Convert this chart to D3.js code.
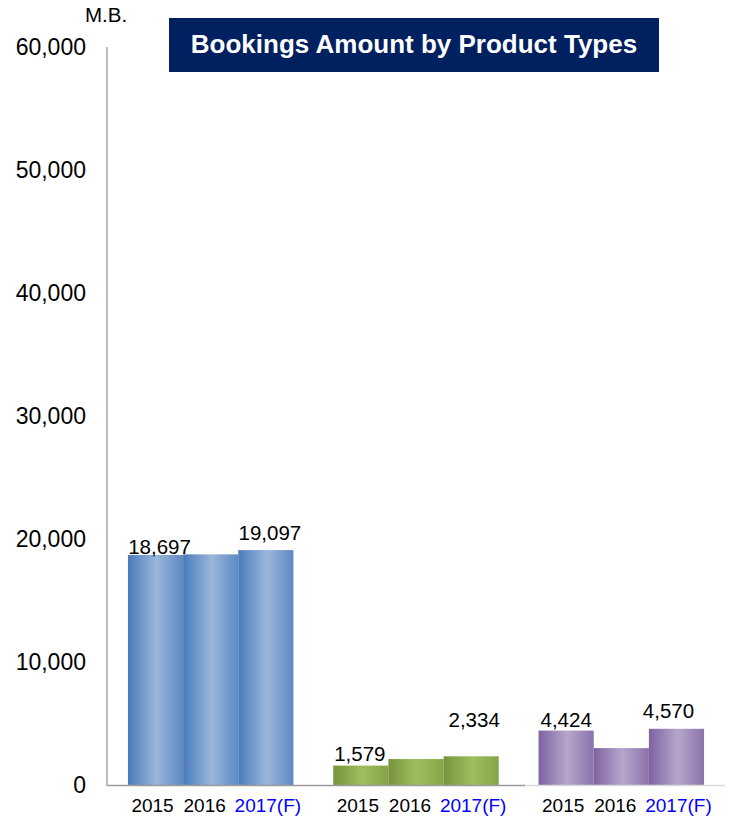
<!DOCTYPE html>
<html>
<head>
<meta charset="utf-8">
<script src="https://cdn.jsdelivr.net/npm/d3@7/dist/d3.min.js"></script>
<style>
  html, body { margin: 0; padding: 0; background: #fff; }
  svg { display: block; font-family: "Liberation Sans", Arial, sans-serif; }
</style>
</head>
<body>
<svg id="chart" width="733" height="821"></svg>
<script>
// Bookings amount (M.B.) by product type, per year
const years = ["2015", "2016", "2017(F)"];
const productTypes = ["typeA", "typeB", "typeC"];
const valuesTypeA = [18697, 18750, 19097];
const valuesTypeB = [1579, 2110, 2334];
const valuesTypeC = [4424, 3000, 4570];
// value labels printed above bars (2016 is not labelled)
const labelsTypeA = ["18,697", null, "19,097"];
const labelsTypeB = ["1,579", null, "2,334"];
const labelsTypeC = ["4,424", null, "4,570"];
const yTicks = [0, 10000, 20000, 30000, 40000, 50000, 60000];
const titleText = "Bookings Amount by Product Types";
const unitText = "M.B.";

const seriesValues = [valuesTypeA, valuesTypeB, valuesTypeC];
const seriesLabels = [labelsTypeA, labelsTypeB, labelsTypeC];

// bar shading: [edge, highlight, trailing edge]
const palettes = [
  ["#4a7cbb", "#9ab6da", "#5d89c3"],
  ["#76933c", "#9fbf5e", "#85a448"],
  ["#7e62a0", "#b6a6cb", "#8c72ac"]
];
// per-label nudges [dx, gap above bar top]
const labelNudge = [
  [[4, 1], null, [4, 10]],
  [[-1, 5], null, [3, 29]],
  [[0, 4], null, [-8, 11]]
];
// horizontal shift of the year captions under each bar
const yearShift = [-3, -6, 2];

const svg = d3.select("#chart");
const defs = svg.append("defs");
palettes.forEach((p, i) => {
  const g = defs.append("linearGradient")
    .attr("id", "grad" + i)
    .attr("x1", "0%").attr("x2", "100%").attr("y1", "0%").attr("y2", "0%");
  g.append("stop").attr("offset", "0%").attr("stop-color", p[0]);
  g.append("stop").attr("offset", "52%").attr("stop-color", p[1]);
  g.append("stop").attr("offset", "100%").attr("stop-color", p[2]);
});

const axisX = 107;
const y = d3.scaleLinear().domain([0, 60000]).range([785, 47]);
const x0 = d3.scaleBand().domain(productTypes).range([axisX, 725])
  .paddingInner(0.194).paddingOuter(0.102);
const x1 = d3.scaleBand().domain(years).range([0, x0.bandwidth()]).padding(0);

// title banner
svg.append("rect").attr("x", 169).attr("y", 18).attr("width", 490).attr("height", 54)
  .attr("fill", "#002060");
svg.append("text").attr("x", 414).attr("y", 53).attr("text-anchor", "middle")
  .attr("fill", "#fff").attr("font-weight", "bold").attr("font-size", 26)
  .text(titleText);

// unit
svg.append("text").attr("x", 85).attr("y", 22).attr("font-size", 20.5).attr("fill", "#000")
  .text(unitText);

// y axis labels
const yAxis = d3.axisLeft(y).tickValues(yTicks).tickSize(0).tickPadding(21)
  .tickFormat(d3.format(","));
const gy = svg.append("g").attr("transform", `translate(${axisX},0)`).call(yAxis);
gy.select(".domain").remove();
gy.selectAll("text").attr("font-size", 23).attr("fill", "#000")
  .attr("font-family", "'Liberation Sans', Arial, sans-serif");

// bars, value labels and year labels per product type
productTypes.forEach((pt, i) => {
  const g = svg.append("g").attr("transform", `translate(${x0(pt)},0)`);
  const rows = years.map((yr, j) => ({
    year: yr, value: seriesValues[i][j], label: seriesLabels[i][j], nudge: labelNudge[i][j]
  }));

  g.selectAll("rect").data(rows).join("rect")
    .attr("x", d => x1(d.year))
    .attr("y", d => y(d.value))
    .attr("width", x1.bandwidth())
    .attr("height", d => y(0) - y(d.value))
    .attr("fill", `url(#grad${i})`);

  g.selectAll("text.val").data(rows.filter(d => d.label !== null)).join("text")
    .attr("class", "val")
    .attr("x", d => x1(d.year) + x1.bandwidth() / 2 + d.nudge[0])
    .attr("y", d => y(d.value) - d.nudge[1])
    .attr("text-anchor", "middle").attr("font-size", 20.5).attr("fill", "#000")
    .text(d => d.label);

  g.selectAll("text.yr").data(years).join("text")
    .attr("class", "yr")
    .attr("x", (d, j) => x1(d) + x1.bandwidth() / 2 + yearShift[j])
    .attr("y", 812)
    .attr("text-anchor", "middle").attr("font-size", 19)
    .attr("fill", (d, j) => j === 2 ? "#0000ff" : "#000")
    .text(d => d);
});

// axis lines
svg.append("line").attr("x1", axisX).attr("x2", axisX).attr("y1", y(60000)).attr("y2", y(0) + 1)
  .attr("stroke", "#a6a6a6").attr("stroke-width", 1.5);
svg.append("line").attr("x1", axisX).attr("x2", 525).attr("y1", y(0) + 0.5).attr("y2", y(0) + 0.5)
  .attr("stroke", "#9a9a9a").attr("stroke-width", 1.6);
svg.append("line").attr("x1", 525).attr("x2", 725).attr("y1", y(0) + 0.5).attr("y2", y(0) + 0.5)
  .attr("stroke", "#d9d9d9").attr("stroke-width", 1.6);
</script>
</body>
</html>
